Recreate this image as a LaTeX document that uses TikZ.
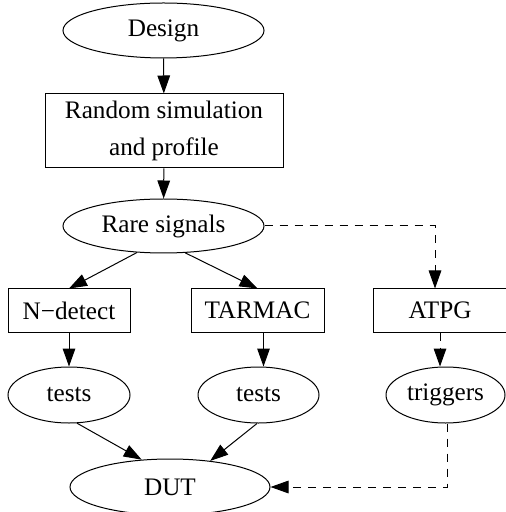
\documentclass[tikz,border=0pt]{standalone}
\usepackage{fontspec}
\setmainfont{Liberation Serif}
\usetikzlibrary{
    shapes.geometric,
    arrows.meta,
    positioning
}
\tikzset{
  basic/.style = {
      draw,
      line width=0.5pt,
      inner sep=0pt,
      align=center,
      font=\fontsize{12.6}{18.5}\selectfont
  },
  oval/.style = {
      basic,
      ellipse,
      minimum height=28pt
  },
  box/.style = {
      basic,
      rectangle,
      minimum height=21.5pt
  },
  flow/.style = {
      line width=0.5pt,
      -{Triangle[length=9pt,width=6.3pt]}
  },
  hint/.style = {
      flow,
      dash pattern=on 4pt off 3.5pt
  }
}

\begin{document}
\begin{tikzpicture}[x=0.5pt, y=-0.5pt]
    \useasboundingbox (0,0) rectangle (505,512);
    % Nodes
    \node[oval, minimum width=100.5pt, minimum height=27.5pt] (design) at (163.5,30.5) {Design};
    \node[box, minimum width=119pt, minimum height=37pt] (profile) at (164,131) {Random simulation\\and profile};
    \node[oval, minimum width=100.5pt, minimum height=27pt] (rare) at (163.5,226) {Rare signals};
    \node[box, minimum width=61pt] (ndetect) at (69,310.5) {N−detect};
    \node[box, minimum width=66.5pt] (tarmac) at (257.5,310.5) {TARMAC};
    \node[box, minimum width=67pt] (atpg) at (440,310.5) {ATPG};
    \node[oval, minimum width=61pt] (testsa) at (69,395) {tests};
    \node[oval, minimum width=60.5pt] (testsb) at (258.5,395) {tests};
    \node[oval, minimum width=59.5pt] (trig) at (445.5,395) {triggers};
    \node[oval, minimum width=100pt] (dut) at (170,487) {DUT};
    % Edges
    \path[flow]
    (design) edge (profile)
    (profile) edge (rare)
    (rare.225.6) edge (ndetect.north)
    (rare.309.6) edge (tarmac.north)
    (ndetect) edge (testsa)
    ([xshift=3pt]tarmac.south) edge ([xshift=3pt]tarmac.south |- testsb.north)
    (testsa.286) edge (dut.136)
    (testsb.267) edge (dut.33);
    \draw[hint] (rare.east) -| ([xshift=-2.5pt]atpg.north);
    \draw[hint] (atpg.south) -- (atpg.south |- trig.north);
    \draw[hint] ([xshift=0.75pt]trig.south) |- (dut.east);
\end{tikzpicture}
\end{document}
